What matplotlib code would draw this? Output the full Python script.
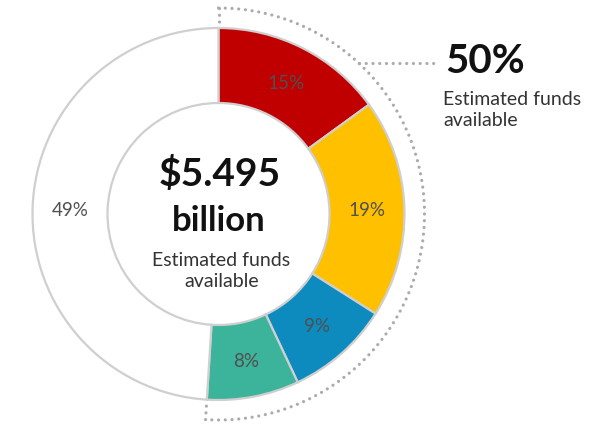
import matplotlib
matplotlib.use("Agg")
import matplotlib.pyplot as plt
import numpy as np

categories = ["Red", "Yellow", "Blue", "Teal", "Other"]
values = [15, 19, 9, 8, 49]
labels = ["15%", "19%", "9%", "8%", "49%"]
colors = ["#C00000", "#FFC000", "#0D8BBF", "#3CB39B", "#FFFFFF"]
total_label = "$5.495"
total_unit = "billion"
total_sub = "Estimated funds\navailable"
highlight_pct = "50%"
highlight_sub = "Estimated funds\navailable"
highlight_count = 4

plt.rcParams['font.family'] = ['Lato', 'DejaVu Sans']

W, H = 599, 425
fig = plt.figure(figsize=(W/100, H/100), dpi=100)
ax = fig.add_axes([0, 0, 1, 1])
cx, cy = 218.5, H - 214
R = 186
width = 75

wedges, _ = ax.pie(values, colors=colors, startangle=90, counterclock=False,
                   radius=R, center=(cx, cy),
                   wedgeprops=dict(width=width, edgecolor="#CFCFCF", linewidth=1.6))

# percentage labels at ring middle
cum = 0
rm = R - width/2
for v, lab in zip(values, labels):
    mid = 90 - (cum + v/2) / sum(values) * 360
    cum += v
    x = cx + rm*np.cos(np.radians(mid))
    y = cy + rm*np.sin(np.radians(mid))
    ax.text(x, y, lab, ha='center', va='center_baseline', fontsize=13.5, color='#505050')

dot = dict(linestyle=(0, (0.01, 2.1)), color='#ABABAB', linewidth=2.3,
           dash_capstyle='round', solid_capstyle='round')
# dotted bracket arc
frac = sum(values[:highlight_count]) / sum(values)
a0, a1 = 90, 90 - frac*360
Rd = 206
th = np.linspace(np.radians(a0), np.radians(a1), 300)
ax.plot(cx + Rd*np.cos(th), cy + Rd*np.sin(th), **dot)
for a in (a0, a1):
    ax.plot([cx + Rd*np.cos(np.radians(a)), cx + (R+3)*np.cos(np.radians(a))],
            [cy + Rd*np.sin(np.radians(a)), cy + (R+3)*np.sin(np.radians(a))], **dot)
# connector line
ya = H - 63
xa = cx + np.sqrt(Rd**2 - (ya - cy)**2)
ax.plot([xa, 437], [ya, ya], **dot)

ax.text(445, H - 61, highlight_pct, ha='left', va='center', fontsize=29,
        fontweight='bold', color='#111111')
ax.text(443, H - 110, highlight_sub, ha='left', va='center', fontsize=14,
        color='#333333', linespacing=1.35)

# center text
ax.text(cx + 1, H - 174, total_label, ha='center', va='center', fontsize=28,
        fontweight='bold', color='#111111')
ax.text(cx, H - 221, total_unit, ha='center', va='center', fontsize=25,
        fontweight='bold', color='#111111')
ax.text(cx + 3, H - 271, total_sub, ha='center', va='center', fontsize=14,
        color='#333333', linespacing=1.35)

ax.set_xlim(0, W)
ax.set_ylim(0, H)
ax.set_aspect('equal')
ax.axis('off')
fig.savefig("out.png", dpi=100, facecolor='white')
